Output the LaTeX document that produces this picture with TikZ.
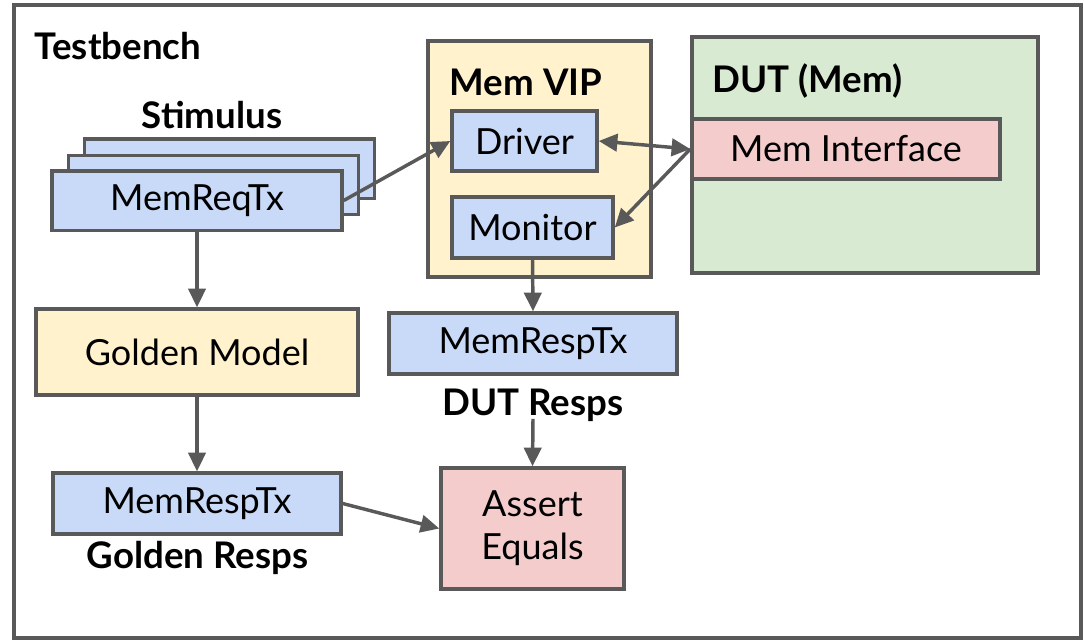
\documentclass[tikz,border=0pt]{standalone}
\usepackage{fontspec}
\setmainfont{Lato}
\usetikzlibrary{arrows.meta}

\definecolor{edgegray}{HTML}{595959}
\definecolor{txblue}{HTML}{C9DAF8}
\definecolor{vipyellow}{HTML}{FFF2CC}
\definecolor{dutgreen}{HTML}{D9EAD3}
\definecolor{ifred}{HTML}{F4CCCC}

\tikzset{every picture/.style={line width=2.6pt}}
\tikzset{
  blk/.style={draw=edgegray, inner sep=0pt, align=center, font=\fontsize{27}{32}\selectfont},
  lbl/.style={inner sep=0pt, font=\fontsize{27.5}{32}\selectfont\bfseries},
  flow/.style={draw=edgegray, -{Triangle[length=14pt,width=13pt]}},
  flowboth/.style={draw=edgegray, {Triangle[length=14pt,width=13pt]}-{Triangle[length=14pt,width=13pt]}},
}

\begin{document}
\begin{tikzpicture}[x=0.75pt,y=0.75pt,yscale=-1,xscale=1]
\useasboundingbox (0,0) rectangle (1084,640);

%Shape: Rectangle (testbench border)
\draw [draw=edgegray] (14,5) rectangle (1081,638);

%Stimulus stack
\node [blk, fill=txblue, minimum width=217.5pt, minimum height=44.6pt] (reqback) at (229.5,168.5) {};
\node [blk, fill=txblue, minimum width=217.5pt, minimum height=44.6pt] (reqmid) at (213.5,185) {};
\node [blk, fill=txblue, minimum width=217.5pt, minimum height=44.6pt] (reqtx) at (197,200.5) {MemReqTx};

%Mem VIP
\node [blk, fill=vipyellow, minimum width=167.25pt, minimum height=177pt] (vip) at (539.5,159) {};
\node [blk, fill=txblue, minimum width=108.75pt, minimum height=45pt] (driver) at (524.5,141) {Driver};
\node [blk, fill=txblue, minimum width=120.75pt, minimum height=45.75pt] (monitor) at (532.5,227.5) {Monitor};

%DUT
\node [blk, fill=dutgreen, minimum width=259.5pt, minimum height=177pt] (dut) at (865,155) {};
\node [blk, fill=ifred, minimum width=231pt, minimum height=45pt] (memif) at (846,149) {Mem Interface};

%Golden side
\node [blk, fill=vipyellow, minimum width=241.5pt, minimum height=64.5pt] (golden) at (197,352) {Golden Model};
\node [blk, fill=txblue, minimum width=216pt, minimum height=45.75pt] (goldresp) at (197,503.5) {MemRespTx};

%DUT side
\node [blk, fill=txblue, minimum width=216pt, minimum height=45.75pt] (dutresp) at (533,343.5) {MemRespTx};
\node [blk, fill=ifred, minimum width=137.25pt, minimum height=90.75pt] (assert) at (532.5,528.5) {Assert\\Equals};

% Text Node
\node [lbl, anchor=base west] (tblbl) at (33,59) {Testbench};
% Text Node
\node [lbl, anchor=base] (stimlbl) at (212,128) {Stimulus};
% Text Node
\node [lbl, anchor=base west] (viplbl) at (448,95) {Mem VIP};
% Text Node
\node [lbl, anchor=base west] (dutlbl) at (711,92) {DUT (Mem)};
% Text Node
\node [lbl, anchor=base] (dutresplbl) at (533,415) {DUT Resps};
% Text Node
\node [lbl, anchor=base] (goldresplbl) at (197.5,568) {Golden Resps};

%Arrows
\draw [flow] (reqtx.east) -- (driver.west);
\draw [flowboth] (driver.east) -- (memif.west);
\draw [flow] (memif.west) -- (monitor.east);
\draw [flow] (reqtx.south) -- (golden.north);
\draw [flow] (monitor.south) -- (dutresp.north);
\draw [flow] (golden.south) -- (goldresp.north);
\draw [flow] ([yshift=-3pt]dutresplbl.south) -- (assert.north);
\draw [flow] (goldresp.east) -- (assert.west);

\end{tikzpicture}
\end{document}
